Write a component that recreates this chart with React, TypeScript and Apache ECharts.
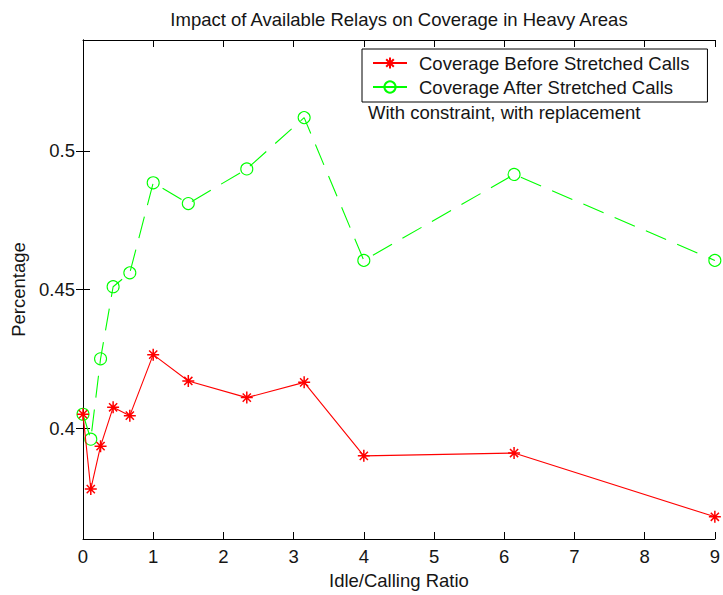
import React, { useEffect, useRef } from "react";
import * as echarts from "echarts";

const ratios = [0, 0.111, 0.25, 0.429, 0.667, 1, 1.5, 2.333, 3.15, 4, 6.14, 9];
const coverageBefore = [0.405, 0.378, 0.3935, 0.4075, 0.4045, 0.4265, 0.417, 0.411, 0.4165, 0.39, 0.391, 0.368];
const coverageAfter = [0.405, 0.396, 0.425, 0.451, 0.456, 0.4885, 0.481, 0.4935, 0.512, 0.4605, 0.4915, 0.4605];
const yTicks = [0.4, 0.45, 0.5];
const seriesNames = ["Coverage Before Stretched Calls", "Coverage After Stretched Calls"];
const titleText = "Impact of Available Relays on Coverage in Heavy Areas";
const noteText = "With constraint, with replacement";

const FONT = "'Liberation Sans', Arial, Helvetica, sans-serif";
const TEXT = "#151515";
const ASTERISK = "path://M5 0L5 10M0 5L10 5M1.6 1.6L8.4 8.4M8.4 1.6L1.6 8.4";

export default function App() {
  const ref = useRef<HTMLDivElement>(null);
  useEffect(() => {
    document.body.style.margin = "0";
    const chart = echarts.init(ref.current!, undefined, { renderer: "svg" });
    const axisLine = { show: true, lineStyle: { color: "#000", width: 1 } };
    const tickStyle = { inside: true, length: 7, lineStyle: { color: "#000", width: 1 } };
    chart.setOption({
      animation: false,
      backgroundColor: "#fff",
      textStyle: { fontFamily: FONT },
      grid: { left: 83, right: 8, top: 40, bottom: 56, containLabel: false },
      legend: {
        data: seriesNames,
        orient: "vertical",
        left: 362,
        top: 49,
        padding: [4, 18, 5, 10],
        borderColor: "#000",
        borderWidth: 1,
        backgroundColor: "#fff",
        itemWidth: 34,
        itemHeight: 14,
        itemGap: 4,
        lineStyle: { type: "solid" },
        textStyle: { fontFamily: FONT, fontSize: 18.5, color: TEXT, lineHeight: 20, padding: [0, 0, 0, 7] },
      },
      xAxis: [
        {
          type: "value",
          min: 0,
          max: 9,
          interval: 1,
          name: "Idle/Calling Ratio",
          nameLocation: "middle",
          nameGap: 31,
          nameTextStyle: { fontFamily: FONT, fontSize: 18.5, color: TEXT },
          axisLine,
          axisTick: tickStyle,
          axisLabel: { fontFamily: FONT, fontSize: 18.5, color: TEXT, margin: 8 },
          splitLine: { show: false },
        },
        {
          type: "value",
          position: "top",
          min: 0,
          max: 9,
          interval: 1,
          axisLine,
          axisTick: tickStyle,
          axisLabel: { show: false },
          splitLine: { show: false },
        },
      ],
      yAxis: [
        {
          type: "value",
          min: 0.36,
          max: 0.54,
          name: "Percentage",
          nameLocation: "middle",
          nameGap: 50,
          nameTextStyle: { fontFamily: FONT, fontSize: 18.5, color: TEXT },
          axisLine,
          axisTick: { ...tickStyle, customValues: yTicks },
          axisLabel: {
            fontFamily: FONT,
            fontSize: 18.5,
            color: TEXT,
            margin: 8,
            customValues: yTicks,
            formatter: (v: number) => String(parseFloat(v.toFixed(2))),
          },
          splitLine: { show: false },
        },
        {
          type: "value",
          position: "right",
          min: 0.36,
          max: 0.54,
          axisLine,
          axisTick: { ...tickStyle, customValues: yTicks },
          axisLabel: { show: false },
          splitLine: { show: false },
        },
      ],
      graphic: [
        {
          type: "text",
          x: 399,
          y: 19,
          style: {
            text: titleText,
            fontFamily: FONT,
            fontSize: 18.5,
            fill: TEXT,
            textAlign: "center",
            textVerticalAlign: "middle",
          },
        },
        {
          type: "text",
          x: 368,
          y: 112,
          style: {
            text: noteText,
            fontFamily: FONT,
            fontSize: 18.5,
            fill: TEXT,
            textAlign: "left",
            textVerticalAlign: "middle",
          },
        },
      ],
      series: [
        {
          name: seriesNames[1],
          type: "line",
          xAxisIndex: 0,
          yAxisIndex: 0,
          data: ratios.map((x, i) => [x, coverageAfter[i]]),
          symbol: "circle",
          symbolSize: 12,
          itemStyle: { color: "rgba(0,0,0,0)", borderColor: "#00ff00", borderWidth: 1.1 },
          lineStyle: { color: "#00ff00", width: 1.1, type: [22, 12] },
          z: 2,
        },
        {
          name: seriesNames[0],
          type: "line",
          xAxisIndex: 0,
          yAxisIndex: 0,
          data: ratios.map((x, i) => [x, coverageBefore[i]]),
          symbol: ASTERISK,
          symbolSize: 12,
          itemStyle: { color: "#ff0000", borderColor: "#ff0000", borderWidth: 1.5 },
          lineStyle: { color: "#ff0000", width: 1.1, type: "solid" },
          z: 3,
        },
      ],
    });
    return () => chart.dispose();
  }, []);
  return <div ref={ref} style={{ width: 723, height: 595 }} />;
}
